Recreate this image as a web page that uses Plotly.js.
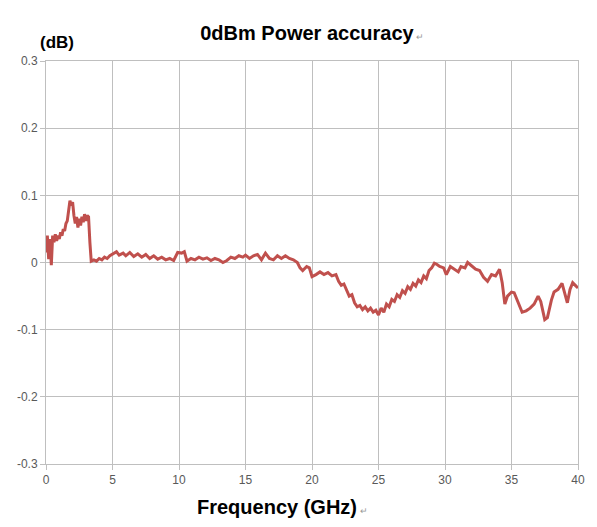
<!DOCTYPE html>
<html>
<head>
<meta charset="utf-8">
<script src="https://cdn.plot.ly/plotly-3.0.1.min.js"></script>
<style>html,body{margin:0;padding:0;background:#fff;}#chart{width:597px;height:527px;}</style>
</head>
<body>
<div id="chart"></div>
<script>
const freqGHz = [0,0.1,0.2,0.3,0.4,0.5,0.6,0.7,0.8,0.9,1.0,1.1,1.2,1.3,1.4,1.5,1.6,1.7,1.8,1.9,2.0,2.1,2.2,2.3,2.4,2.5,2.6,2.7,2.8,2.9,3.0,3.1,3.2,3.3,3.4,3.6,3.8,4.0,4.2,4.4,4.6,4.8,5.0,5.3,5.5,5.8,6.0,6.3,6.6,6.9,7.2,7.5,7.8,8.1,8.4,8.7,9.0,9.3,9.6,9.9,10.2,10.4,10.6,10.9,11.2,11.5,11.8,12.1,12.4,12.7,13.0,13.3,13.6,13.9,14.2,14.5,14.8,15.0,15.3,15.6,15.9,16.2,16.5,16.8,17.1,17.4,17.7,18.0,18.3,18.6,18.9,19.1,19.3,19.6,19.8,20.0,20.3,20.6,20.9,21.2,21.5,21.8,
  22.0,22.2,22.4,22.6,22.8,23.0,23.2,23.4,23.6,23.8,24.0,24.2,24.4,24.6,24.8,
  25.0,25.2,25.4,25.6,25.8,26.0,26.2,26.4,26.6,26.8,27.0,27.2,27.4,27.6,27.8,28.0,28.2,28.4,28.6,28.8,29.0,29.2,
  29.4,29.6,29.9,30.1,30.4,30.7,31.0,31.2,31.5,31.7,32.0,32.3,32.6,32.9,33.2,33.5,33.8,34.1,34.3,34.5,34.7,35.0,35.2,35.5,35.8,36.1,36.4,36.7,37.0,37.2,37.5,37.7,38.0,38.2,38.5,38.8,39.0,39.2,39.4,39.6,39.8,40.0];
const accuracyDb = [0.015,0.040,0.005,0.035,-0.004,0.040,0.030,0.042,0.032,0.040,0.035,0.045,0.040,0.050,0.047,0.058,0.062,0.075,0.092,0.085,0.090,0.070,0.058,0.068,0.052,0.065,0.055,0.068,0.060,0.072,0.062,0.070,0.068,0.030,0.002,0.004,0.002,0.006,0.004,0.008,0.006,0.010,0.012,0.016,0.011,0.014,0.010,0.015,0.009,0.013,0.008,0.012,0.006,0.010,0.005,0.008,0.004,0.006,0.003,0.015,0.014,0.016,0.002,0.006,0.004,0.008,0.005,0.007,0.003,0.006,0.004,0.000,0.003,0.008,0.006,0.010,0.008,0.011,0.006,0.010,0.012,0.004,0.014,0.006,0.004,0.010,0.006,0.010,0.006,0.004,0.000,-0.008,-0.012,-0.006,-0.008,-0.021,-0.018,-0.014,-0.018,-0.015,-0.020,-0.018,
  -0.028,-0.034,-0.032,-0.042,-0.050,-0.048,-0.060,-0.066,-0.064,-0.070,-0.066,-0.072,-0.068,-0.074,-0.071,
  -0.078,-0.068,-0.074,-0.062,-0.066,-0.055,-0.058,-0.048,-0.052,-0.042,-0.046,-0.036,-0.040,-0.031,-0.035,-0.026,-0.030,-0.020,-0.024,-0.012,-0.008,-0.001,
  -0.003,-0.006,-0.008,-0.018,-0.006,-0.010,-0.014,-0.006,-0.008,0.000,-0.005,-0.010,-0.012,-0.022,-0.028,-0.018,-0.020,-0.010,-0.030,-0.062,-0.050,-0.044,-0.045,-0.060,-0.074,-0.072,-0.068,-0.062,-0.050,-0.058,-0.085,-0.082,-0.056,-0.044,-0.040,-0.031,-0.045,-0.060,-0.040,-0.030,-0.034,-0.038];
const xTicks = [0,5,10,15,20,25,30,35,40];
const xTickLabels = ["0","5","10","15","20","25","30","35","40"];
const yTicks = [0.3,0.2,0.1,0,-0.1,-0.2,-0.3];
const yTickLabels = ["0.3","0.2","0.1","0","-0.1","-0.2","-0.3"];
const chartTitle = "0dBm Power accuracy";
const xTitle = "Frequency (GHz)";
const yUnit = "(dB)";

const ret = '<span style="font-size:9px;color:#999;font-weight:normal"> ↵</span>';
const trace = {
  x: freqGHz, y: accuracyDb, type: 'scatter', mode: 'lines',
  line: {color: '#C0504D', width: 3}, hoverinfo: 'none'
};
const axisCommon = {
  showgrid: true, gridcolor: '#BFBFBF', gridwidth: 1,
  showline: true, linecolor: '#BFBFBF', linewidth: 1,
  ticks: 'outside', ticklen: 5, tickcolor: '#BFBFBF',
  tickfont: {family: 'Liberation Sans, Arial, sans-serif', size: 12, color: '#595959'},
  zeroline: false, fixedrange: true
};
const layout = {
  width: 597, height: 527,
  margin: {l: 46, r: 19, t: 61, b: 63},
  paper_bgcolor: '#fff', plot_bgcolor: '#fff',
  showlegend: false,
  title: {text: '<b>' + chartTitle + '</b>' + ret, x: 0.523, xanchor: 'center', y: 1 - 33/527, yanchor: 'middle',
    font: {family: 'Liberation Sans, Arial, sans-serif', size: 20, color: '#000'}},
  xaxis: Object.assign({}, axisCommon, {range: [0, 40], tickvals: xTicks, ticktext: xTickLabels, mirror: true}),
  yaxis: Object.assign({}, axisCommon, {range: [-0.3, 0.3], tickvals: yTicks, ticktext: yTickLabels, mirror: true}),
  annotations: [
    {text: '<b>' + xTitle + '</b>' + ret, xref: 'paper', yref: 'paper', x: (282-46)/532, y: 0, xanchor: 'center', yanchor: 'middle', yshift: -43, showarrow: false,
      font: {family: 'Liberation Sans, Arial, sans-serif', size: 20, color: '#000'}},
    {text: '<b>' + yUnit + '</b>', xref: 'paper', yref: 'paper', x: (57-46)/532, y: 1, xanchor: 'center', yanchor: 'middle', yshift: 19, showarrow: false,
      font: {family: 'Liberation Sans, Arial, sans-serif', size: 17, color: '#000'}}
  ]
};
Plotly.newPlot('chart', [trace], layout, {displayModeBar: false, staticPlot: true});
</script>
</body>
</html>
